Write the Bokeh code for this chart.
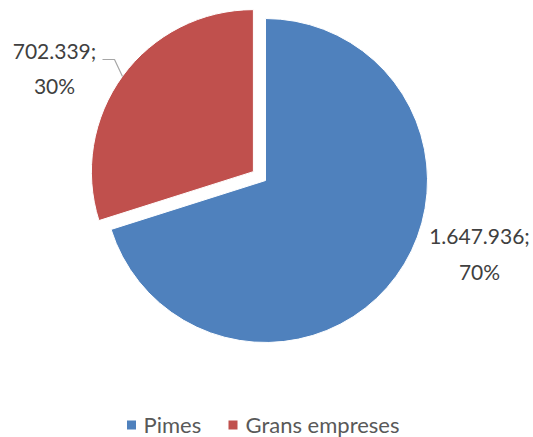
import math
from bokeh.plotting import figure
from bokeh.models import Range1d, ColumnDataSource
from bokeh.core.properties import value
from bokeh.embed import file_html
from bokeh.resources import INLINE

# data
categories = ["Pimes", "Grans empreses"]
values = [1647936, 702339]
colors = ["#4F81BD", "#C0504D"]
explode = [0, 15]

W, H = 533, 437
p = figure(width=W, height=H, output_backend="svg", toolbar_location=None,
           x_range=Range1d(0, W), y_range=Range1d(0, H),
           min_border=0, outline_line_color=None)
p.axis.visible = False
p.grid.visible = False
p.background_fill_color = "white"
p.border_fill_color = "white"

def Y(sy):
    return H - sy

cx, cy, r = 265, Y(180), 162
total = sum(values)
start = math.pi / 2
xs, ys, sa, ea = [], [], [], []
for v, e in zip(values, explode):
    frac = v / total
    end = start - frac * 2 * math.pi
    mid = (start + end) / 2
    xs.append(cx + e * math.cos(mid))
    ys.append(cy + e * math.sin(mid))
    sa.append(start)
    ea.append(end)
    start = end

src = ColumnDataSource(dict(x=xs, y=ys, start=sa, end=ea, color=colors))
p.wedge(x="x", y="y", radius=r, start_angle="start", end_angle="end",
        direction="clock", fill_color="color", line_color="white", line_width=1,
        source=src)

# data labels
def fmt(v):
    return f"{v:,}".replace(",", ".")

labels = [f"{fmt(v)};\n{round(v / total * 100)}%" for v in values]
label_pos = [(479, Y(253)), (54, Y(67.5))]
p.text(x=[pt[0] for pt in label_pos], y=[pt[1] for pt in label_pos], text=labels,
       text_font=value("Lato"), text_font_size="21px", text_color="#404040",
       text_align="center", text_baseline="middle", text_line_height=1.42)

# leader line for small slice
p.line(x=[102, 114, 122], y=[Y(59), Y(59), Y(76)], line_color="#A6A6A6", line_width=1.2)

# legend
leg_x = [131, 232.5]
p.scatter(x=leg_x, y=[Y(424.5)] * 2, marker="square", size=9,
          fill_color=colors, line_color=None)
p.text(x=[143, 245], y=[Y(424)] * 2, text=categories,
       text_font=value("Lato"), text_font_size="22px", text_color="#595959",
       text_align="left", text_baseline="middle")

open("out.html", "w").write(file_html(p, INLINE))
